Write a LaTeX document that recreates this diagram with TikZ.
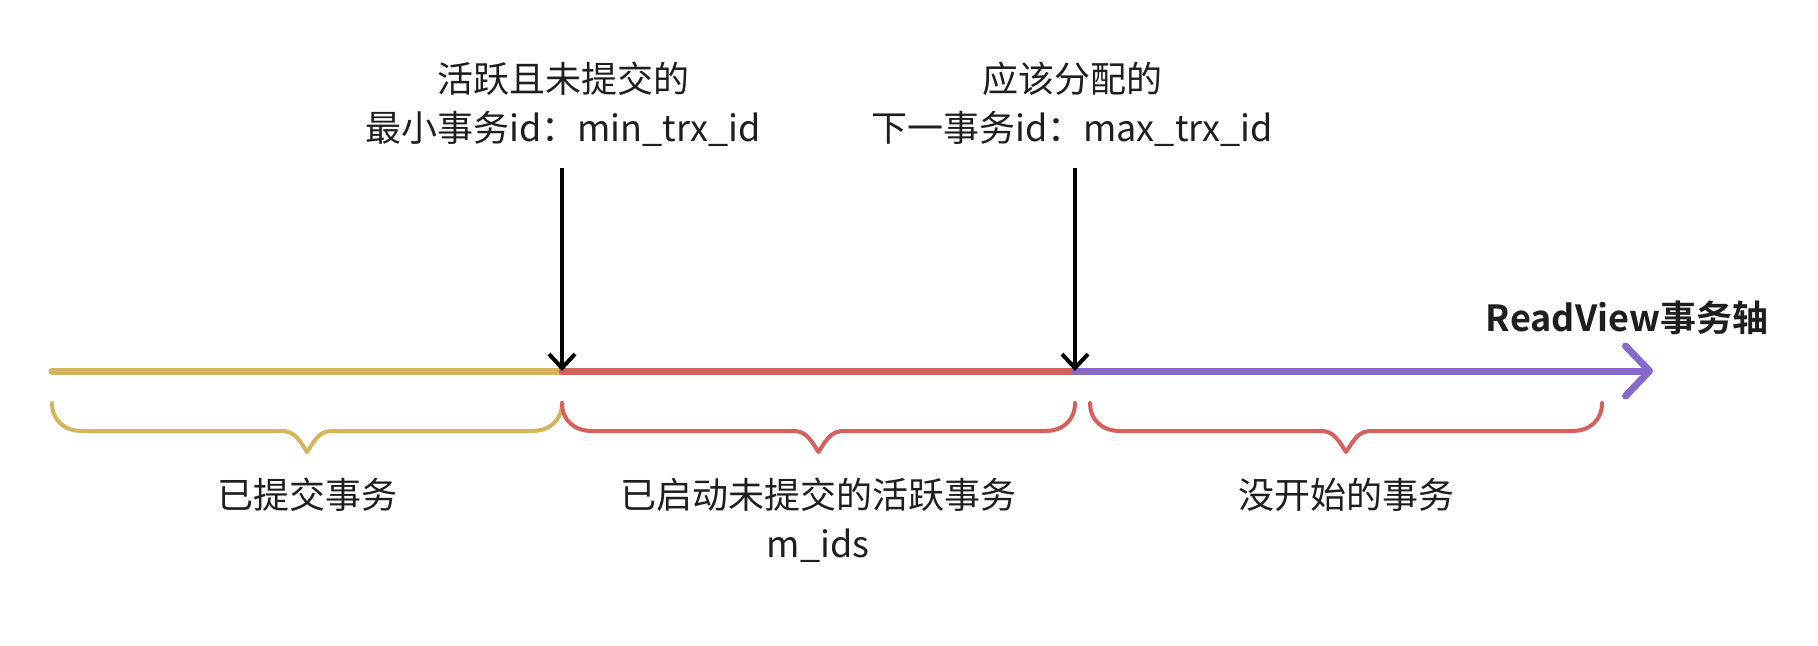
\documentclass[tikz,border=0pt]{standalone}
\usepackage{fontspec}
\setmainfont{Noto Sans CJK SC}[BoldFont={Noto Sans CJK SC Bold}]
\usetikzlibrary{arrows.meta}
\definecolor{axyellow}{HTML}{D6B45A}
\definecolor{axred}{HTML}{D5605E}
\definecolor{axpurple}{HTML}{8669CA}
\definecolor{txt}{HTML}{1E1E1E}
\tikzset{
  seg/.style={line width=3.5pt, line cap=round},
  bracestyle/.style={line width=2pt, line cap=round, line join=round},
  ptr/.style={line width=2pt, -{Straight Barb[length=7pt,width=13pt]}},
  lbl/.style={text=txt, align=center, inner sep=0pt, font=\fontsize{18}{24.4}\selectfont},
  title/.style={text=txt, inner sep=0pt, font=\fontsize{18}{24.4}\selectfont\bfseries},
}
\newcommand{\txbrace}[3]{%
  \pgfmathsetmacro\txbL{#1}\pgfmathsetmacro\txbR{#2}\pgfmathsetmacro\txbC{(#1+#2)/2}%
  \draw[bracestyle,#3] (\txbL,403) .. controls (\txbL,420) and (\txbL+12,431) .. (\txbL+30,431)
    -- (\txbC-26,431) .. controls (\txbC-14,431) and (\txbC-10,436) .. (\txbC,452)
    .. controls (\txbC+10,436) and (\txbC+14,431) .. (\txbC+26,431)
    -- (\txbR-30,431) .. controls (\txbR-12,431) and (\txbR,420) .. (\txbR,403);}
\begin{document}
\begin{tikzpicture}[x=0.5pt,y=-0.5pt]
\useasboundingbox (0,0) rectangle (1818,646);
% axis points
\coordinate (a0) at (52,371);
\coordinate (a1) at (562,371);
\coordinate (a2) at (1075,371);
\coordinate (a3) at (1653,371);
\coordinate (t1) at (562,168);
\coordinate (t2) at (1075,168);
% axis
\draw[seg, axyellow] (a0) -- (a1);
\draw[seg, axred] (a1) -- (a2);
\draw[seg, axpurple, -{Straight Barb[length=12pt,width=25pt,round]}] (a2) -- (a3);
% pointers
\draw[ptr] (t1) -- (a1);
\draw[ptr] (t2) -- (a2);
% top labels
\node[lbl] (minl) at (563,104) {活跃且未提交的\\最小事务id：min\_trx\_id};
\node[lbl] (maxl) at (1072,104) {应该分配的\\下一事务id：max\_trx\_id};
\node[title] (axl) at (1627,318) {ReadView事务轴};
% braces
\txbrace{52}{562}{axyellow}
\txbrace{562}{1075}{axred}
\txbrace{1090}{1602}{axred}
% bottom labels
\node[lbl] (b1) at (307,495) {已提交事务};
\node[lbl] (b2) at (818,520) {已启动未提交的活跃事务\\m\_ids};
\node[lbl] (b3) at (1346,495) {没开始的事务};
\end{tikzpicture}
\end{document}
